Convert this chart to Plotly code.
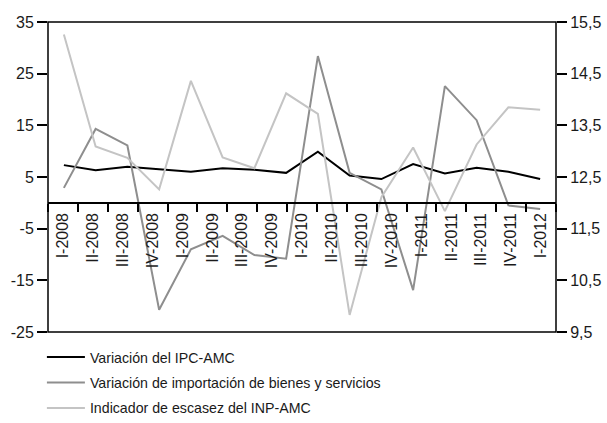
import plotly.graph_objects as go

quarters = ["I-2008", "II-2008", "III-2008", "IV-2008",
            "I-2009", "II-2009", "III-2009", "IV-2009",
            "I-2010", "II-2010", "III-2010", "IV-2010",
            "I-2011", "II-2011", "III-2011", "IV-2011", "I-2012"]

# 16 observations drawn across the 17-label category axis (as in the original)
ipc = [7.3, 6.3, 7.0, 6.5, 6.0, 6.7, 6.4, 5.8, 9.9, 5.3, 4.6, 7.5, 5.7, 6.8, 6.0, 4.6]
importaciones = [2.9, 14.3, 11.1, -20.7, -9.0, -6.4, -10.1, -10.8, 28.4, 5.8, 2.6, -16.9, 22.6, 16.0, -0.5, -1.2]
escasez = [15.26, 13.09, 12.87, 12.26, 14.36, 12.88, 12.67, 14.12, 13.72, 9.83, 12.11, 13.07, 11.84, 13.13, 13.85, 13.80]

left_ticks = [-25, -15, -5, 5, 15, 25, 35]
left_ticktext = ["-25", "-15", "-5", "5", "15", "25", "35"]
right_ticks = [9.5, 10.5, 11.5, 12.5, 13.5, 14.5, 15.5]

names = ["Variación del IPC-AMC",
         "Variación de importación de bienes y servicios",
         "Indicador de escasez del INP-AMC"]

FONT = "Liberation Sans, Arial, Helvetica, sans-serif"
TXT = "#1a1a1a"

obs_x = quarters[:len(ipc)]

fig = go.Figure()
# category holder for the labelled axis (no marks)
fig.add_trace(go.Scatter(x=quarters, y=[None] * len(quarters), xaxis="x", yaxis="y",
                         mode="lines", showlegend=False, hoverinfo="skip"))
fig.add_trace(go.Scatter(x=obs_x, y=ipc, xaxis="x2", yaxis="y", mode="lines",
                         name=names[0], legendgroup="a",
                         line=dict(color="#000000", width=2)))
fig.add_trace(go.Scatter(x=obs_x, y=importaciones, xaxis="x2", yaxis="y", mode="lines",
                         name=names[1], legendgroup="b",
                         line=dict(color="#8e8e8e", width=2)))
fig.add_trace(go.Scatter(x=obs_x, y=escasez, xaxis="x2", yaxis="y2", mode="lines",
                         name=names[2], legendgroup="c",
                         line=dict(color="#c4c4c4", width=2)))

zero_pos = (0 - (-25)) / (35 - (-25))

fig.update_layout(
    width=607, height=423,
    margin=dict(l=48, r=51, t=22, b=91, autoexpand=False),
    paper_bgcolor="white", plot_bgcolor="white",
    separators=",.",
    font=dict(family=FONT, size=16, color=TXT),
    showlegend=True,
    legend=dict(x=-0.012, xanchor="left", y=-0.03, yanchor="top",
                orientation="v", tracegroupgap=4, itemwidth=38,
                font=dict(size=14.2, color=TXT), bgcolor="rgba(0,0,0,0)"),
    xaxis=dict(type="category", categoryorder="array", categoryarray=quarters,
               range=[-0.5, len(quarters) - 0.5], anchor="free", position=zero_pos,
               showline=True, linecolor="#000000", linewidth=1.5,
               ticks="outside", ticklen=8, tickwidth=1.5, tickcolor="#000000",
               tickson="boundaries", tickmode="linear", tick0=0, dtick=1,
               tickangle=-90, ticklabelstandoff=3,
               showgrid=False, zeroline=False, automargin=False,
               tickfont=dict(size=16, color=TXT)),
    xaxis2=dict(type="category", categoryorder="array", categoryarray=obs_x,
                range=[-0.5, len(obs_x) - 0.5], overlaying="x", visible=False,
                showgrid=False, zeroline=False),
    yaxis=dict(range=[-25, 35], tickmode="array", tickvals=left_ticks,
               ticktext=left_ticktext, ticks="outside", ticklen=10, tickwidth=1.5,
               tickcolor="#000000", showgrid=False, zeroline=False, showline=False,
               automargin=False, tickfont=dict(size=16, color=TXT)),
    yaxis2=dict(range=[9.5, 15.5], overlaying="y", side="right", anchor="x",
                tickmode="array", tickvals=right_ticks, tickformat=".1f",
                ticks="outside", ticklen=10, tickwidth=1.5, tickcolor="#000000",
                showgrid=False, zeroline=False, showline=False, automargin=False,
                tickfont=dict(size=16, color=TXT)),
    shapes=[dict(type="rect", xref="paper", yref="paper", x0=0, x1=1, y0=0, y1=1,
                 line=dict(color="#000000", width=1.5), fillcolor="rgba(0,0,0,0)",
                 layer="above")],
)

fig.write_html("out.html",
               config={"displayModeBar": False},
               post_script="document.body.style.margin='0';document.body.style.overflow='hidden';")
